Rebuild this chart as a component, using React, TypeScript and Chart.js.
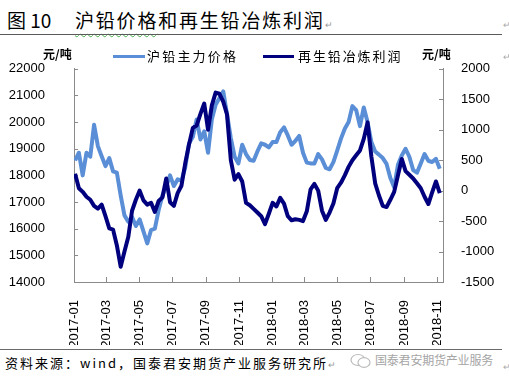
import React, { useEffect, useRef } from 'react';
import { Chart, registerables } from 'chart.js';

Chart.register(...registerables);

// ---------- data ----------
const titleNo = '图 10';
const titleText = '沪铅价格和再生铅冶炼利润';
const seriesNames = ['沪铅主力价格', '再生铅冶炼利润'];
const unitLabel = '元/吨';
const sourceText = '资料来源：wind，国泰君安期货产业服务研究所';
const watermarkText = '国泰君安期货产业服务';

// weekly observation dates starting 2017-01-03
const firstDate = '2017-01-03';
const weekCount = 97;
const dates: string[] = [];
for (let k = 0; k < weekCount; k++) {
  const d = new Date(Date.parse(firstDate + 'T00:00:00Z') + k * 7 * 86400000);
  dates.push(d.toISOString().slice(0, 10));
}

const tickLabels = [
  '2017-01', '2017-03', '2017-05', '2017-07', '2017-09', '2017-11',
  '2018-01', '2018-03', '2018-05', '2018-07', '2018-09', '2018-11',
];

// 沪铅主力价格 (left axis, 元/吨)
const leadPrice = [
  18560, 18850, 18000, 18850, 18700, 19900, 19100, 18720, 18350, 18650,
  18150, 18100, 17250, 16500, 16260, 16440, 16100, 16350, 15900, 15450,
  15950, 16000, 16700, 17250, 17600, 18000, 17600, 17850, 17800, 18300,
  19200, 19450, 20100, 19350, 19650, 18850, 20100, 20650, 20900, 21150,
  20300, 19400, 18700, 18450, 19150, 18800, 18580, 18550, 18900, 19200,
  19150, 19050, 19250, 19250, 19620, 19800, 19500, 19150, 19300, 19480,
  18850, 18480, 18450, 18450, 18800, 18600, 18280, 18230, 18500, 18930,
  19380, 19750, 20000, 20600, 20450, 19850, 20550, 20000, 19250, 18900,
  18780, 18650, 18430, 17900, 17560, 18400, 18750, 19000, 18700, 18200,
  18100, 18450, 18800, 18550, 18500, 18620, 18250,
];

// 再生铅冶炼利润 (right axis, 元/吨)
const recycleProfit = [
  277, 40, -20, -100, -150, -250, -296, -230, -420, -620,
  -640, -900, -1250, -1000, -760, -330, -150, 0, -160, -230,
  -200, -350, -170, -110, 200, -190, -250, -40, 80, 450,
  760, 1030, 1068, 1260, 1430, 1000, 1400, 1610, 1590, 1460,
  1250, 500, 180, 270, 150, -200, -240, -300, -360, -420,
  -550, -380, -200, -260, -120, -214, -420, -487, -470, -480,
  -500, -340, 20, 110, 0, -330, -480, -360, -210, 40,
  130, 250, 390, 500, 580, 660, 850, 1120, 560, 120,
  -80, -250, -270, -150, -20, 250, 520, 320, 260, 200,
  120, 40, -100, -220, -30, 150, -40,
];

// ---------- helpers ----------
const ORIGIN = Date.UTC(2017, 0, 1);
const dayOf = (s: string) => (Date.parse(s.length === 7 ? s + '-01T00:00:00Z' : s + 'T00:00:00Z') - ORIGIN) / 86400000;

const LIGHT = '#5A8ED6';
const DARK = '#00007E';
const AXIS = '#8a8a8a';
const TICK_FONT = { family: '"Liberation Sans", Arial, sans-serif', size: 13 };

const innerTicks = {
  id: 'innerTicks',
  beforeDatasetsDraw(chart: any) {
    const { ctx, chartArea } = chart;
    const { left, right, bottom } = chartArea;
    ctx.save();
    ctx.strokeStyle = AXIS;
    ctx.lineWidth = 1;
    ctx.beginPath();
    const ys = chart.scales.y;
    ys.ticks.forEach((t: any) => {
      const p = Math.round(ys.getPixelForValue(t.value)) + 0.5;
      ctx.moveTo(left, p);
      ctx.lineTo(left + 4, p);
    });
    const y1 = chart.scales.y1;
    y1.ticks.forEach((t: any) => {
      const p = Math.round(y1.getPixelForValue(t.value)) + 0.5;
      ctx.moveTo(right - 4, p);
      ctx.lineTo(right, p);
    });
    const xs = chart.scales.x;
    xs.ticks.forEach((t: any) => {
      const p = Math.round(xs.getPixelForValue(t.value)) + 0.5;
      ctx.moveTo(p, bottom);
      ctx.lineTo(p, bottom - 5);
    });
    ctx.stroke();
    ctx.restore();
  },
};

function LeadChart() {
  const ref = useRef<HTMLCanvasElement | null>(null);
  useEffect(() => {
    if (!ref.current) return;
    const tickDays = tickLabels.map((l) => dayOf(l));
    const labelMap: Record<string, string> = {};
    tickLabels.forEach((l, i) => (labelMap[String(tickDays[i])] = l));
    const chart = new Chart(ref.current, {
      type: 'line',
      data: {
        datasets: [
          {
            label: seriesNames[1],
            data: dates.map((d, i) => ({ x: dayOf(d), y: recycleProfit[i] })),
            yAxisID: 'y1',
            borderColor: DARK,
            backgroundColor: DARK,
            borderWidth: 4,
            pointRadius: 0,
            borderJoinStyle: 'round',
            tension: 0,
          },
          {
            label: seriesNames[0],
            data: dates.map((d, i) => ({ x: dayOf(d), y: leadPrice[i] })),
            yAxisID: 'y',
            borderColor: LIGHT,
            backgroundColor: LIGHT,
            borderWidth: 4,
            pointRadius: 0,
            borderJoinStyle: 'round',
            tension: 0,
          },
        ],
      },
      options: {
        responsive: false,
        animation: false,
        devicePixelRatio: 1,
        layout: { padding: { top: 28, left: 0, right: 0, bottom: 0 } },
        plugins: { legend: { display: false }, tooltip: { enabled: false }, title: { display: false } },
        scales: {
          x: {
            type: 'linear',
            min: 0,
            max: 680,
            afterBuildTicks: (axis: any) => {
              axis.ticks = tickDays.map((v) => ({ value: v }));
            },
            afterFit: (s: any) => {
              s.height = 63;
            },
            ticks: {
              autoSkip: false,
              minRotation: 90,
              maxRotation: 90,
              padding: 10,
              color: '#000',
              font: TICK_FONT,
              callback: (v: any) => labelMap[String(v)] ?? '',
            },
            grid: { display: false },
            border: { display: true, color: AXIS, width: 1 },
          },
          y: {
            position: 'left',
            min: 14000,
            max: 22000,
            afterFit: (s: any) => {
              s.width = 74;
            },
            ticks: { stepSize: 1000, padding: 21, color: '#000', font: TICK_FONT, callback: (v: any) => String(v) },
            grid: { display: false },
            border: { display: true, color: AXIS, width: 1 },
          },
          y1: {
            position: 'right',
            min: -1500,
            max: 2000,
            afterFit: (s: any) => {
              s.width = 66;
            },
            ticks: { stepSize: 500, padding: 10, color: '#000', font: TICK_FONT, callback: (v: any) => String(v) },
            grid: { display: false },
            border: { display: true, color: AXIS, width: 1 },
          },
        },
      },
      plugins: [innerTicks],
    } as any);
    return () => chart.destroy();
  }, []);
  return (
    <canvas
      ref={ref}
      width={509}
      height={305}
      style={{ position: 'absolute', left: 0, top: 40, width: 509, height: 305 }}
    />
  );
}

export default function App() {
  const cjk = '"Noto Sans CJK SC", "Noto Sans", sans-serif';
  const abs = (o: React.CSSProperties): React.CSSProperties => ({ position: 'absolute', whiteSpace: 'nowrap', ...o });
  return (
    <div style={{ position: 'absolute', left: 0, top: 0, width: 509, height: 383, background: '#fff', overflow: 'hidden', fontFamily: cjk, color: '#000' }}>
      {/* title */}
      <div style={abs({ left: 7, top: 10, fontSize: 19, lineHeight: '19px' })}>{titleNo}</div>
      <div style={abs({ left: 75, top: 10, fontSize: 19, lineHeight: '19px', letterSpacing: '1.8px' })}>
        <span style={{ textDecoration: 'underline wavy #4caf50', textUnderlineOffset: '5px', textDecorationThickness: '1px' }}>
          {titleText.slice(0, 4)}
        </span>
        {titleText.slice(4)}
        <span style={{ fontSize: 9, color: '#999', letterSpacing: 0 }}>↵</span>
      </div>
      <div style={abs({ left: 503, top: 18, fontSize: 9, color: '#aaa' })}>↵</div>
      <div style={abs({ left: 0, top: 34, width: 502, height: 1, background: '#5a5a5a' })} />

      <LeadChart />

      {/* legend & units */}
      <div style={abs({ left: 43, top: 48, fontSize: 12, lineHeight: '12px', fontWeight: 700 })}>{unitLabel}</div>
      <div style={abs({ left: 422, top: 48, fontSize: 12, lineHeight: '12px', fontWeight: 700 })}>{unitLabel}</div>
      <div style={abs({ left: 113, top: 55, width: 32, height: 3, background: LIGHT })} />
      <div style={abs({ left: 147, top: 49, fontSize: 13, lineHeight: '13px', letterSpacing: '2.2px' })}>{seriesNames[0]}</div>
      <div style={abs({ left: 263, top: 55, width: 31, height: 3, background: DARK })} />
      <div style={abs({ left: 298, top: 49, fontSize: 13, lineHeight: '13px', letterSpacing: '1.9px' })}>{seriesNames[1]}</div>
      <div style={abs({ left: 503, top: 50, fontSize: 9, color: '#aaa' })}>↵</div>

      {/* footer */}
      <div style={abs({ left: 0, top: 349, width: 502, height: 1, background: '#6a6a6a' })} />
      <div style={abs({ left: 5, top: 356, fontSize: 13, lineHeight: '13px', letterSpacing: '2px' })}>
        {sourceText}
        <span style={{ fontSize: 9, color: '#999', letterSpacing: 0 }}>↵</span>
      </div>
      <svg style={abs({ left: 349, top: 353, width: 24, height: 16 })} viewBox="0 0 24 16">
        <ellipse cx="9" cy="7" rx="7" ry="5.5" fill="none" stroke="#bbb" strokeWidth="1.2" />
        <ellipse cx="15" cy="9.5" rx="6" ry="4.8" fill="#fff" stroke="#bbb" strokeWidth="1.2" />
      </svg>
      <div style={abs({ left: 375, top: 354, fontSize: 12, lineHeight: '12px', color: '#a5a5a5', letterSpacing: '-0.2px' })}>{watermarkText}</div>
      <div style={abs({ left: 503, top: 360, fontSize: 9, color: '#aaa' })}>↵</div>
    </div>
  );
}
